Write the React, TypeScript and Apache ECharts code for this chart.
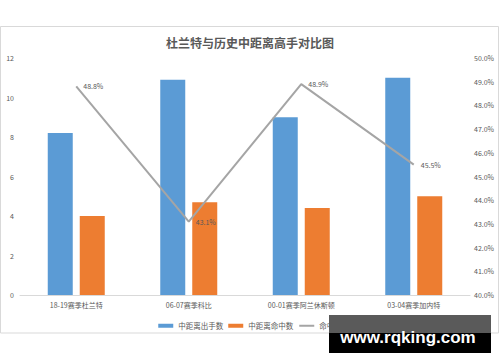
import React, { useEffect, useRef } from "react";
import * as echarts from "echarts";

const categories = ["18-19赛季杜兰特", "06-07赛季科比", "00-01赛季阿兰休斯顿", "03-04赛季加内特"];
const attempts = [8.2, 10.9, 9.0, 11.0];
const makes = [4.0, 4.7, 4.4, 5.0];
const pct = [48.8, 43.1, 48.9, 45.5];
const seriesNames = ["中距离出手数", "中距离命中数", "命中率"];
const titleText = "杜兰特与历史中距离高手对比图";
const watermark = "www.rqking.com";

const FONT = '"Noto Sans CJK SC", "Noto Sans", sans-serif';

export default function App() {
  const ref = useRef<HTMLDivElement>(null);
  useEffect(() => {
    if (!ref.current) return;
    const chart = echarts.init(ref.current, undefined, { renderer: "svg" });
    chart.setOption({
      animation: false,
      backgroundColor: "#ffffff",
      textStyle: { fontFamily: FONT },
      title: {
        text: titleText,
        left: "center",
        top: 31,
        textStyle: { fontSize: 12, fontWeight: "bold", color: "#595959", fontFamily: FONT },
      },
      grid: { left: 20, right: 30, top: 58, bottom: 67, containLabel: false },
      legend: {
        data: [
          { name: seriesNames[0], icon: "rect" },
          { name: seriesNames[1], icon: "rect" },
          { name: seriesNames[2] },
        ],
        top: 317,
        left: "center",
        itemWidth: 15,
        itemHeight: 4,
        itemGap: 5,
        textStyle: { fontSize: 7.5, color: "#595959", fontFamily: FONT },
      },
      xAxis: {
        type: "category",
        data: categories,
        axisLine: { show: true, lineStyle: { color: "#d9d9d9", width: 1 } },
        axisTick: { show: false },
        axisLabel: { fontSize: 7, color: "#595959", margin: 6, interval: 0 },
      },
      yAxis: [
        {
          type: "value",
          min: 0,
          max: 12,
          interval: 2,
          splitLine: { show: false },
          axisLine: { show: false },
          axisTick: { show: false },
          axisLabel: { fontSize: 7, color: "#595959", margin: 6 },
        },
        {
          type: "value",
          min: 40,
          max: 50,
          interval: 1,
          position: "right",
          splitLine: { show: false },
          axisLine: { show: false },
          axisTick: { show: false },
          axisLabel: {
            fontSize: 7,
            color: "#595959",
            margin: 4,
            formatter: (v: number) => v.toFixed(1) + "%",
          },
        },
      ],
      series: [
        {
          name: seriesNames[0],
          type: "bar",
          data: attempts,
          barWidth: 25,
          barGap: "28%",
          itemStyle: { color: "#5b9bd5" },
        },
        {
          name: seriesNames[1],
          type: "bar",
          data: makes,
          barWidth: 25,
          barGap: "28%",
          itemStyle: { color: "#ed7d31" },
        },
        {
          name: seriesNames[2],
          type: "line",
          yAxisIndex: 1,
          data: pct,
          symbol: "circle",
          symbolSize: 2,
          itemStyle: { color: "rgba(0,0,0,0)", borderWidth: 0 },
          lineStyle: { color: "#a5a5a5", width: 2 },
          label: {
            show: true,
            position: "right",
            distance: 6,
            fontSize: 7,
            color: "#595959",
            formatter: (p: any) => p.value.toFixed(1) + "%",
          },
          z: 5,
        },
      ],
      graphic: [
        {
          type: "rect",
          shape: { x: 0.5, y: 26.5, width: 498, height: 306.5 },
          style: { fill: "none", stroke: "#d9d9d9", lineWidth: 1 },
          silent: true,
          z: -1,
        },
        {
          type: "rect",
          shape: { x: 329, y: 315, width: 162, height: 18 },
          style: { fill: "#5a5a5a" },
          z: 100,
        },
        {
          type: "rect",
          shape: { x: 329, y: 333, width: 162, height: 20 },
          style: { fill: "#000000" },
          z: 100,
        },
        {
          type: "text",
          x: 408,
          y: 337,
          z: 101,
          style: {
            text: watermark,
            fill: "#ffffff",
            font: 'bold 17px "Liberation Sans", Arial, sans-serif',
            textAlign: "center",
            textVerticalAlign: "middle",
          },
        },
      ],
    });
    return () => chart.dispose();
  }, []);
  return (
    <div
      ref={ref}
      style={{ position: "fixed", left: 0, top: 0, width: 500, height: 362 }}
    />
  );
}
